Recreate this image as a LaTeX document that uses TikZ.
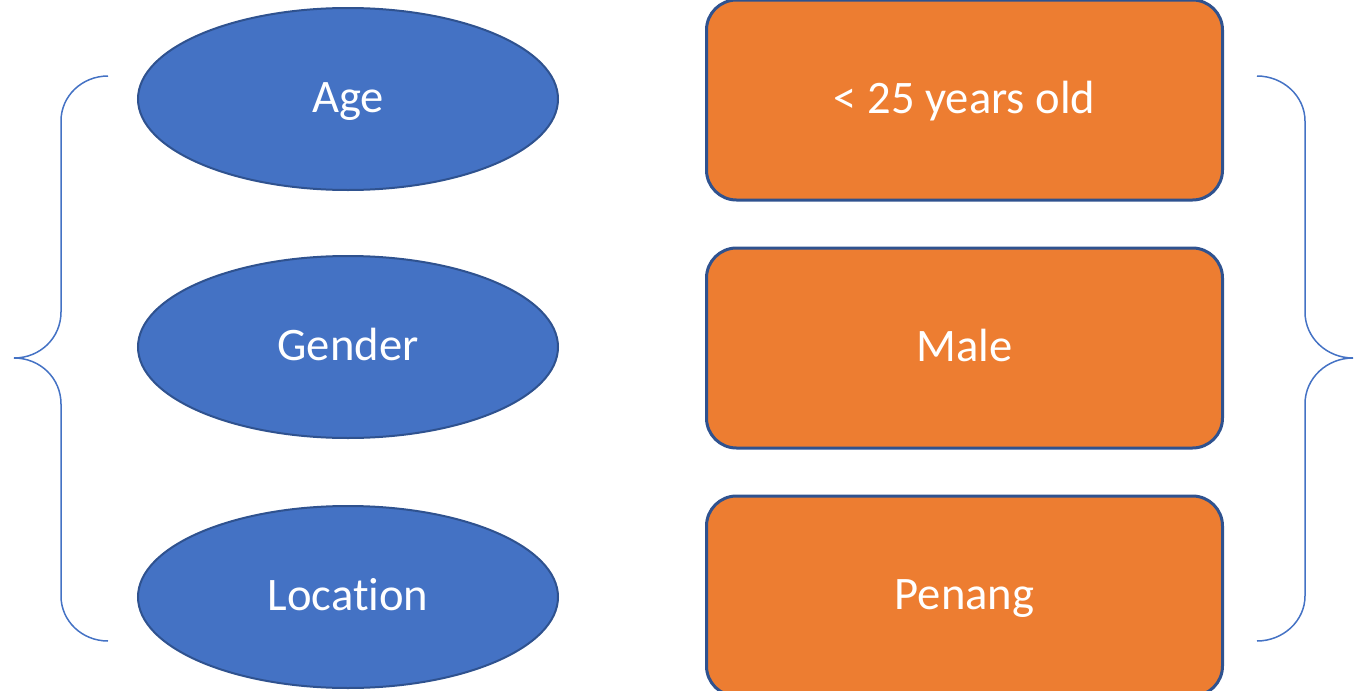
\documentclass[tikz,border=0pt]{standalone}
\usepackage{fontspec}
\setmainfont[Ligatures={NoCommon,NoRare}]{Carlito}
\usepackage{tikz}
\usetikzlibrary{arrows.meta, positioning}
\usetikzlibrary{shapes.geometric}
\definecolor{ellblue}{HTML}{4472C4}
\definecolor{edgeblue}{HTML}{2F528F}
\definecolor{boxorange}{HTML}{ED7D31}
\tikzset{
  attribute/.style={
      ellipse,
      draw=edgeblue, line width=1pt,
      fill=ellblue,
      minimum width=210pt,
      minimum height=91pt,
      inner sep=0pt, outer sep=0pt,
      text height=15pt, text depth=1.5pt,
      text=white,
      font=\fontsize{23.3}{28}\selectfont,
    },
  valuebox/.style={
      rectangle,
      rounded corners=15pt,
      draw=edgeblue, line width=1.5pt,
      fill=boxorange,
      minimum width=258pt,
      minimum height=100pt,
      inner sep=0pt, outer sep=0pt,
      text height=15pt, text depth=1.5pt,
      text=white,
      font=\fontsize{23.3}{28}\selectfont,
    },
  curly/.style={
      draw=ellblue,
      line width=0.75pt,
    },
}

\begin{document}
\begin{tikzpicture}[x=0.5pt,y=-0.5pt]
      \useasboundingbox (0,0) rectangle (1362,691);
      \node[attribute] (age) at (348,99) {Age};
      \node[attribute, below=33pt of age] (gender) {Gender};
      \node[attribute, below=34pt of gender] (location) {Location};
      \node[valuebox] (young) at (964.5,100) {< 25 years old};
      \node[valuebox, below=24pt of young] (male) {Male};
      \node[valuebox, below=24pt of male] (penang) {Penang};
      % braces
      \draw[curly] (108,76) .. controls (82,76) and (61,96) .. (61,121) -- (61,312)
        .. controls (61,338) and (40,358) .. (14,358)
        .. controls (40,358) and (61,378) .. (61,404) -- (61,596)
        .. controls (61,621) and (82,641) .. (108,641);
      \draw[curly] (1257,76) .. controls (1283,76) and (1305,96) .. (1305,121) -- (1305,312)
        .. controls (1305,338) and (1327,358) .. (1353,358)
        .. controls (1327,358) and (1305,378) .. (1305,404) -- (1305,596)
        .. controls (1305,621) and (1283,641) .. (1257,641);
    \end{tikzpicture}
\end{document}
